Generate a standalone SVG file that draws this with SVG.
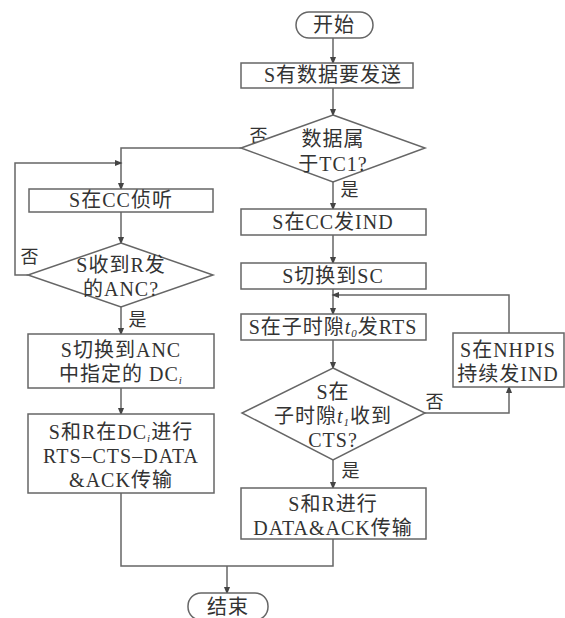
<svg xmlns="http://www.w3.org/2000/svg" width="565" height="618" viewBox="0 0 565 618">
<defs>
<marker id="arr" markerWidth="8" markerHeight="12" refX="8" refY="4" orient="auto" markerUnits="userSpaceOnUse" viewBox="0 0 10 8">
<path d="M0,0 L10,4 L0,8 Z" fill="#444"/>
</marker>
<style>
.s{fill:#fff;stroke:#666;stroke-width:1.5}
.c{fill:none;stroke:#666;stroke-width:1.5}
text{font-family:"Liberation Serif","Noto Sans CJK SC",serif;font-size:20px;fill:#333;text-anchor:middle;letter-spacing:1px}
.l{font-size:18px}
.sub{font-size:11px;font-style:italic}
.it{font-style:italic}
</style>
</defs>
<rect width="565" height="618" fill="#fff"/>
<g id="connectors">
<path class="c" d="M333,38 V63" marker-end="url(#arr)"/>
<path class="c" d="M333,88 V115" marker-end="url(#arr)"/>
<path class="c" d="M241,148 H121 V189" marker-end="url(#arr)"/>
<path class="c" d="M333,182 V209" marker-end="url(#arr)"/>
<path class="c" d="M121,212 V243" marker-end="url(#arr)"/>
<path class="c" d="M28,275 H15 V163 H121" marker-end="url(#arr)"/>
<path class="c" d="M121,307 V334" marker-end="url(#arr)"/>
<path class="c" d="M121,388 V414" marker-end="url(#arr)"/>
<path class="c" d="M333,235 V263" marker-end="url(#arr)"/>
<path class="c" d="M333,289 V314" marker-end="url(#arr)"/>
<path class="c" d="M333,340 V368" marker-end="url(#arr)"/>
<path class="c" d="M333,460 V488" marker-end="url(#arr)"/>
<path class="c" d="M425,413 H509 V387" marker-end="url(#arr)"/>
<path class="c" d="M509,333 V295 H333" marker-end="url(#arr)"/>
<path class="c" d="M121,493 V566 H333 V539"/>
<path class="c" d="M227,566 V593" marker-end="url(#arr)"/>
<text class="l" x="259" y="142">否</text>
<text class="l" x="350" y="196">是</text>
<text class="l" x="30" y="263">否</text>
<text class="l" x="138" y="326">是</text>
<text class="l" x="435" y="408">否</text>
<text class="l" x="351" y="477">是</text>
</g>
<g id="start">
<rect class="s" x="296" y="12" width="77" height="26" rx="13"/>
<text x="334" y="32">开始</text>
</g>
<g id="hasData">
<rect class="s" x="241" y="63" width="172" height="25"/>
<text x="333" y="82">S有数据要发送</text>
</g>
<g id="isTC1">
<polygon class="s" points="333,115 425,148 333,182 241,148"/>
<text x="333" y="146">数据属</text>
<text x="333" y="171">于TC1?</text>
</g>
<g id="listenCC">
<rect class="s" x="29" y="189" width="184" height="23"/>
<text x="121" y="207">S在CC侦听</text>
</g>
<g id="gotANC">
<polygon class="s" points="121,243 213,275 121,307 28,275"/>
<text x="121" y="272">S收到R发</text>
<text x="121" y="296">的ANC?</text>
</g>
<g id="switchDC">
<rect class="s" x="28" y="334" width="186" height="54"/>
<text x="121" y="357">S切换到ANC</text>
<text x="121" y="381">中指定的 DC<tspan class="sub" dy="3">i</tspan></text>
</g>
<g id="transDC">
<rect class="s" x="28" y="414" width="186" height="79"/>
<text x="121" y="439">S和R在DC<tspan class="sub" dy="3">i</tspan><tspan dy="-3">进行</tspan></text>
<text x="121" y="463">RTS–CTS–DATA</text>
<text x="121" y="487">&amp;ACK传输</text>
</g>
<g id="sendIND">
<rect class="s" x="241" y="209" width="185" height="26"/>
<text x="333" y="229">S在CC发IND</text>
</g>
<g id="switchSC">
<rect class="s" x="241" y="263" width="185" height="26"/>
<text x="333" y="283">S切换到SC</text>
</g>
<g id="sendRTS">
<rect class="s" x="241" y="314" width="185" height="26"/>
<text x="333" y="334">S在子时隙<tspan class="it">t</tspan><tspan class="sub" dy="3">0</tspan><tspan dy="-3">发RTS</tspan></text>
</g>
<g id="gotCTS">
<polygon class="s" points="333,368 425,413 333,460 242,413"/>
<text x="333" y="399">S在</text>
<text x="333" y="423">子时隙<tspan class="it">t</tspan><tspan class="sub" dy="3">1</tspan><tspan dy="-3">收到</tspan></text>
<text x="333" y="447">CTS?</text>
</g>
<g id="nhpis">
<rect class="s" x="453" y="333" width="111" height="54"/>
<text x="508" y="357">S在NHPIS</text>
<text x="508" y="381">持续发IND</text>
</g>
<g id="dataAck">
<rect class="s" x="241" y="488" width="185" height="51"/>
<text x="333" y="511">S和R进行</text>
<text x="333" y="535">DATA&amp;ACK传输</text>
</g>
<g id="end">
<rect class="s" x="188" y="593" width="80" height="27" rx="13"/>
<text x="228" y="614">结束</text>
</g>
</svg>
